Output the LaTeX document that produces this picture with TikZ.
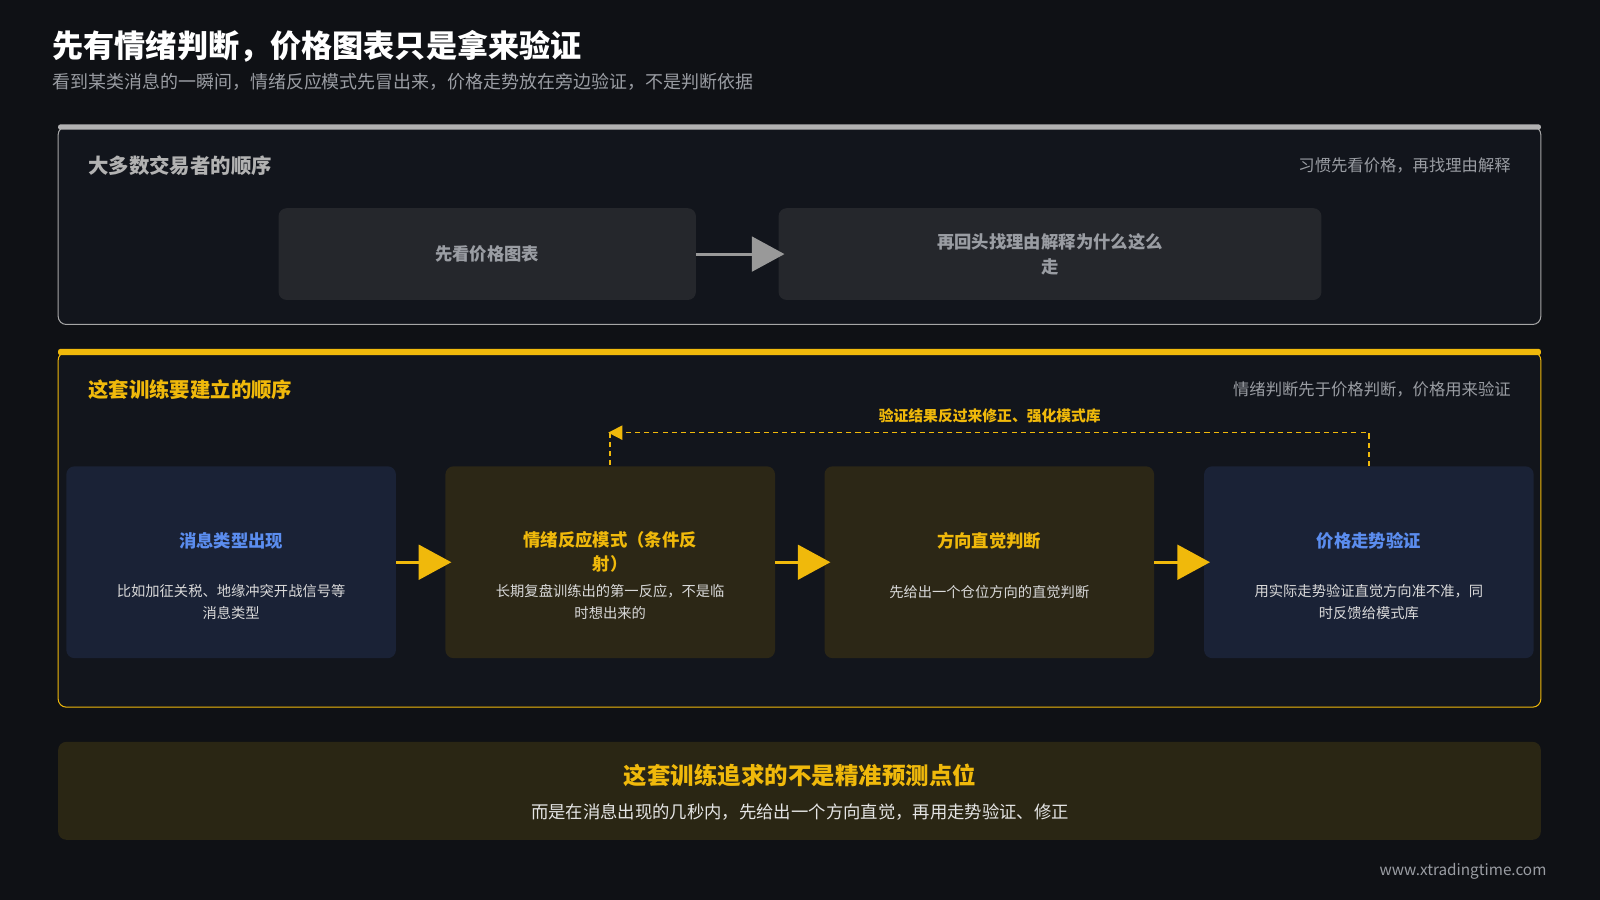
\documentclass[tikz,border=0pt]{standalone}
\usepackage{fontspec}
\setmainfont{Noto Sans CJK SC}
\usetikzlibrary{arrows.meta,positioning}
\definecolor{bg}{HTML}{0F1115}
\definecolor{panel}{HTML}{12151C}
\definecolor{gold}{HTML}{F0B90B}
\definecolor{goldfill}{HTML}{2C2716}
\definecolor{bluefill}{HTML}{1A2236}
\definecolor{bluetext}{HTML}{5B8DEF}
\definecolor{greybox}{HTML}{25272C}
\definecolor{greytext}{HTML}{9A9DA3}
\definecolor{bottomfill}{HTML}{2A2614}
\tikzset{
  stage/.style={rounded corners=8pt,minimum height=90pt,align=center,text=greytext,font=\fontsize{17}{24}\selectfont\bfseries},
  card/.style={rounded corners=8pt,minimum width=323pt,minimum height=188pt},
  cardtitle/.style={font=\fontsize{17}{23}\selectfont\bfseries,align=center},
  carddesc/.style={font=\fontsize{14}{21}\selectfont,text=white!85!black,align=center},
  bigarrow/.style={line width=3pt,-{Triangle[length=32pt,width=34pt]}},
  side/.style={anchor=east,text=greytext,font=\fontsize{16}{18}\selectfont}
}
\begin{document}
\begin{tikzpicture}[x=1pt,y=-1pt]
\fill[bg] (0,0) rectangle (1568,882);
\useasboundingbox (0,0) rectangle (1568,882);

% heading
\node[anchor=west,text=white,font=\fontsize{30.5}{34}\selectfont\bfseries] (title) at (48,45) {先有情绪判断，价格图表只是拿来验证};
\node[anchor=west,text=greytext,font=\fontsize{17.6}{20}\selectfont] (sub) at (48,80) {看到某类消息的一瞬间，情绪反应模式先冒出来，价格走势放在旁边验证，不是判断依据};

% usual order
\draw[draw=white!65!black,fill=panel,rounded corners=8pt,line width=1pt] (57,124) rectangle (1510,318);
\fill[white!70!black,rounded corners=2pt] (57,122) rectangle (1510,127);
\node[anchor=west,text=white!70!black,font=\fontsize{20}{22}\selectfont\bfseries] (usual) at (83,162) {大多数交易者的顺序};
\node[side] (usualnote) at (1484,162) {习惯先看价格，再找理由解释};
\node[stage,fill=greybox,minimum width=409pt] (look) at (477.5,249) {先看价格图表};
\node[stage,fill=greybox,minimum width=532pt] (explain) at (1029,249) {再回头找理由解释为什么这么\\走};
\draw[bigarrow,white!60!black,shorten >=-6pt] (look) -- (explain);

% trained order
\draw[draw=gold,fill=panel,rounded corners=8pt,line width=1pt] (57,345) rectangle (1510,693);
\fill[gold,rounded corners=2pt] (57,342) rectangle (1510,348);
\node[anchor=west,text=gold,font=\fontsize{20}{22}\selectfont\bfseries] (train) at (83,382) {这套训练要建立的顺序};
\node[side] (trainnote) at (1484,382) {情绪判断先于价格判断，价格用来验证};

\node[card,fill=bluefill] (news) at (226.5,551) {};
\node[card,fill=goldfill] (emotion) at (598,551) {};
\node[card,fill=goldfill] (intuit) at (969.5,551) {};
\node[card,fill=bluefill] (verify) at (1341.5,551) {};

\node[cardtitle,text=bluetext] at (226.5,530) {消息类型出现};
\node[carddesc] at (226.5,590) {比如加征关税、地缘冲突开战信号等\\消息类型};
\node[cardtitle,text=gold] at (598,541) {情绪反应模式（条件反\\射）};
\node[carddesc] at (598,590) {长期复盘训练出的第一反应，不是临\\时想出来的};
\node[cardtitle,text=gold] at (969.5,530) {方向直觉判断};
\node[carddesc] at (969.5,580) {先给出一个仓位方向的直觉判断};
\node[cardtitle,text=bluetext] at (1341.5,530) {价格走势验证};
\node[carddesc] at (1341.5,590) {用实际走势验证直觉方向准不准，同\\时反馈给模式库};

\draw[bigarrow,gold,shorten >=-6pt] (news) -- (emotion);
\draw[bigarrow,gold,shorten >=-6pt] (emotion) -- (intuit);
\draw[bigarrow,gold,shorten >=-6pt] (intuit) -- (verify);

% feedback loop
\coordinate (turn) at (596,424);
\draw[gold,dash pattern=on 5pt off 4pt,line width=1.6pt,-{Triangle[length=14pt,width=14pt]}] (verify.north) |- (turn);
\draw[gold,dash pattern=on 5pt off 4pt,line width=1.6pt] (598,424) -- (emotion.north);
\node[text=gold,font=\fontsize{14.5}{16}\selectfont\bfseries] (loop) at (970,408) {验证结果反过来修正、强化模式库};

% bottom note
\fill[bottomfill,rounded corners=8pt] (57,727) rectangle (1510,823);
\node[text=gold,font=\fontsize{23}{26}\selectfont\bfseries] (goal) at (784,760) {这套训练追求的不是精准预测点位};
\node[text=white!90!black,font=\fontsize{17}{20}\selectfont] (goaltext) at (784,796) {而是在消息出现的几秒内，先给出一个方向直觉，再用走势验证、修正};

\node[anchor=east,text=greytext,font=\fontsize{15}{16}\selectfont] (site) at (1519,854) {www.xtradingtime.com};
\end{tikzpicture}
\end{document}
